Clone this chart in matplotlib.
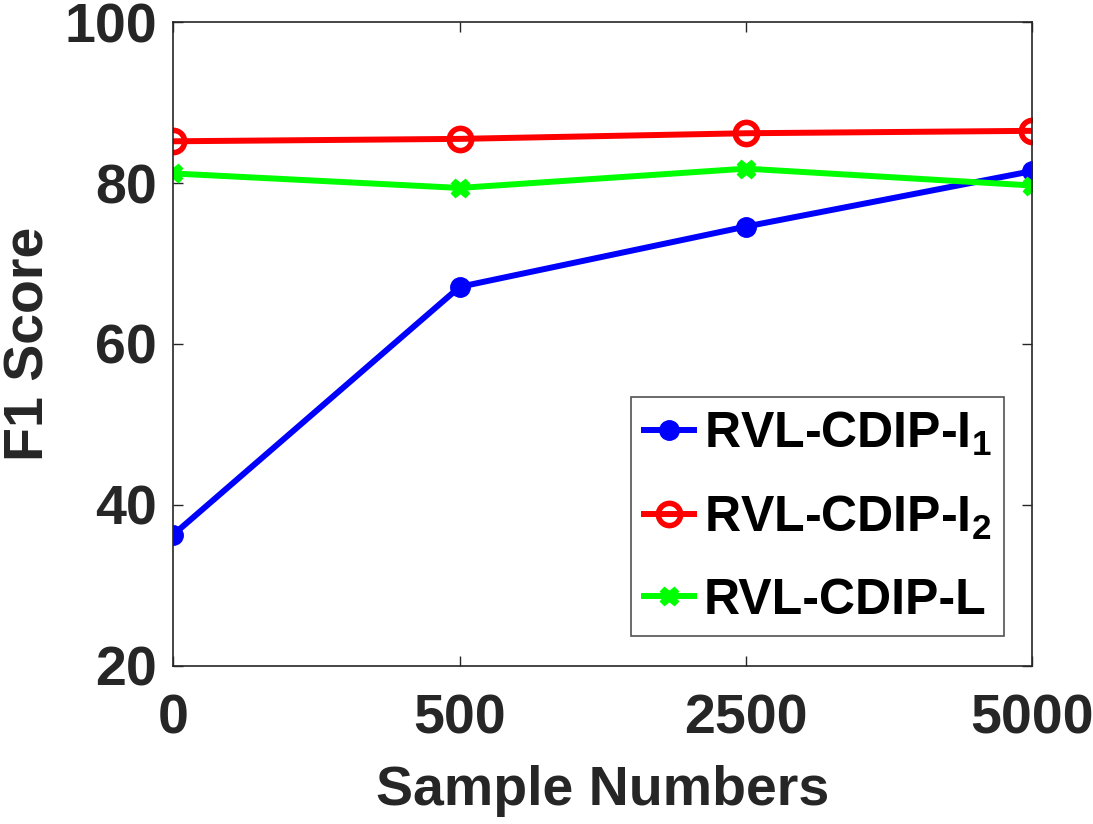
import matplotlib
matplotlib.use('Agg')
import matplotlib.pyplot as plt

plt.rcParams['font.family'] = ['Liberation Sans', 'DejaVu Sans']
plt.rcParams['font.weight'] = 'bold'
plt.rcParams['mathtext.fontset'] = 'custom'
plt.rcParams['mathtext.rm'] = 'Liberation Sans:bold'
plt.rcParams['mathtext.bf'] = 'Liberation Sans:bold'
plt.rcParams['mathtext.default'] = 'regular'

sample_labels = ['0', '500', '2500', '5000']
f1_i1 = [36.3, 67.1, 74.6, 81.5]
f1_i2 = [85.2, 85.5, 86.2, 86.5]
f1_l = [81.2, 79.4, 81.8, 79.7]

x = list(range(len(sample_labels)))
dark = '#262626'

fig = plt.figure(figsize=(10.93, 8.24), dpi=100)
ax = fig.add_axes([0.1586, 0.1921, 0.9445 - 0.1586, 0.973 - 0.1921])

ax.plot(x, f1_i1, color='#0000ff', lw=4.3, marker='o', ms=14,
        label='RVL-CDIP-I$_1$')
ax.plot(x, f1_i2, color='#ff0000', lw=4.3, marker='o', ms=16, mfc='none',
        mew=4, label='RVL-CDIP-I$_2$')
ax.plot(x, f1_l, color='#00ff00', lw=4.3, marker='X', ms=13,
        label='RVL-CDIP-L')

ax.set_xlim(0, 3)
ax.set_ylim(20, 100)
ax.set_xticks(x)
ax.set_xticklabels(sample_labels)
ax.set_yticks([20, 40, 60, 80, 100])

ax.tick_params(direction='in', length=7, width=1, colors=dark,
               top=True, right=True, labelsize=40)
ax.tick_params(axis='x', pad=20)
ax.tick_params(axis='y', pad=12)
for lab in ax.get_xticklabels() + ax.get_yticklabels():
    lab.set_fontweight('bold')
for s in ax.spines.values():
    s.set_color(dark)
    s.set_linewidth(1.2)

ax.set_xlabel('Sample Numbers', fontsize=40, fontweight='bold', color=dark, labelpad=14)
ax.set_ylabel('F1 Score', fontsize=40, fontweight='bold', color=dark, labelpad=6)

leg = ax.legend(loc='lower right', bbox_to_anchor=(0.967, 0.046), fontsize=36,
                frameon=True, fancybox=False, edgecolor=dark, handlelength=1.0,
                handletextpad=0.2, borderpad=0.25, labelspacing=0.72,
                borderaxespad=0)
leg.get_frame().set_linewidth(1.2)
for t in leg.get_texts():
    t.set_fontweight('bold')
    t.set_color('black')

fig.savefig('out.png', dpi=100)
